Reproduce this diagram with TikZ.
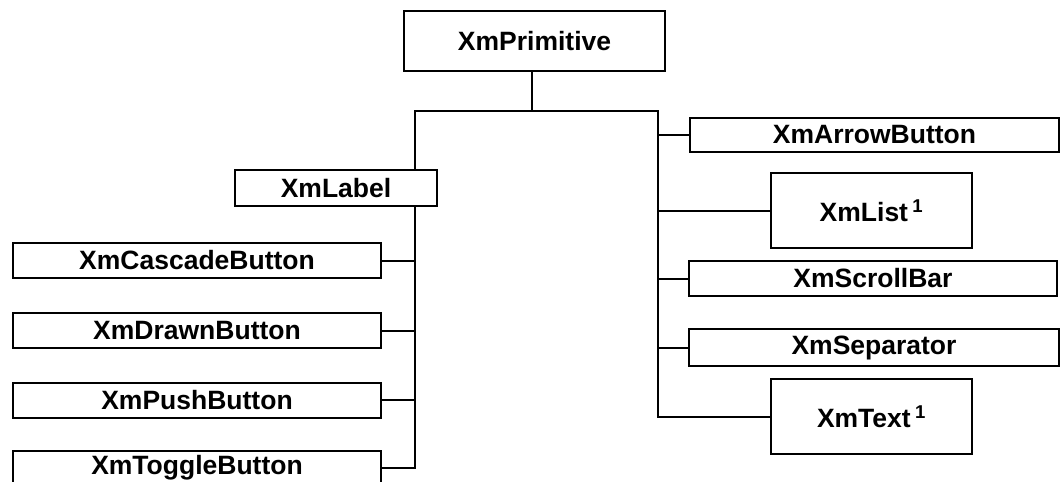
\documentclass[tikz,border=0pt]{standalone}
\usepackage{fontspec}
\setmainfont{Liberation Sans}
\begin{document}
\begin{tikzpicture}[x=1pt,y=-1pt,
  line width=2pt, line cap=rect,
  cls/.style={draw, line width=2pt, inner sep=0pt, align=center,
    font=\bfseries\fontsize{26.5}{31}\selectfont},
  wide/.style={cls, minimum width=368pt, minimum height=35pt},
  tall/.style={cls, line width=2.8pt, minimum width=201pt, minimum height=75pt},
  link/.style={line width=2pt}]
\useasboundingbox (0,0) rectangle (1061,482);

% root class
\node[cls, minimum width=261pt, minimum height=60pt] (prim) at (534.5,41) {XmPrimitive};

% XmLabel branch and its subclasses
\node[cls, minimum width=202pt, minimum height=36pt] (label) at (336,188) {XmLabel};
\node[wide] (cascade) at (197,260.5) {XmCascadeButton};
\node[wide] (drawn)   at (197,330.5) {XmDrawnButton};
\node[wide] (push)    at (197,400)   {XmPushButton};
\node[wide] (toggle)  at (197,468)   {XmToggleButton};

% direct subclasses on the right
\node[wide, minimum width=369pt, minimum height=34pt] (arrow) at (874.5,135) {XmArrowButton};
\node[tall] (list)  at (871.5,210.5) {XmList\,\textsuperscript{1}};
\node[wide] (scroll) at (873,278.5) {XmScrollBar};
\node[wide, minimum width=370pt, minimum height=37pt] (sep) at (874,347.5) {XmSeparator};
\node[tall] (text)  at (871.5,416.5) {XmText\,\textsuperscript{1}};

% spine coordinates
\coordinate (split) at (532,111);
\coordinate (lsp) at (415,111);
\coordinate (rsp) at (658,111);
\coordinate (lend) at (415,468);
\coordinate (rend) at (658,416.5);

% trunk from the root
\draw[link] (prim.south -| split) -- (split);
\draw[link] (lsp) -- (rsp);

% left spine through XmLabel
\draw[link] (lsp) -- (lsp |- label.north);
\draw[link] (lsp |- label.south) -- (lend);
\foreach \n in {cascade,drawn,push,toggle}
  \draw[link] (\n.east) -- (\n.east -| lend);

% right spine
\draw[link] (rsp) -- (rend);
\foreach \n in {arrow,list,scroll,sep,text}
  \draw[link] (\n.west) -- (\n.west -| rsp);
\end{tikzpicture}
\end{document}
